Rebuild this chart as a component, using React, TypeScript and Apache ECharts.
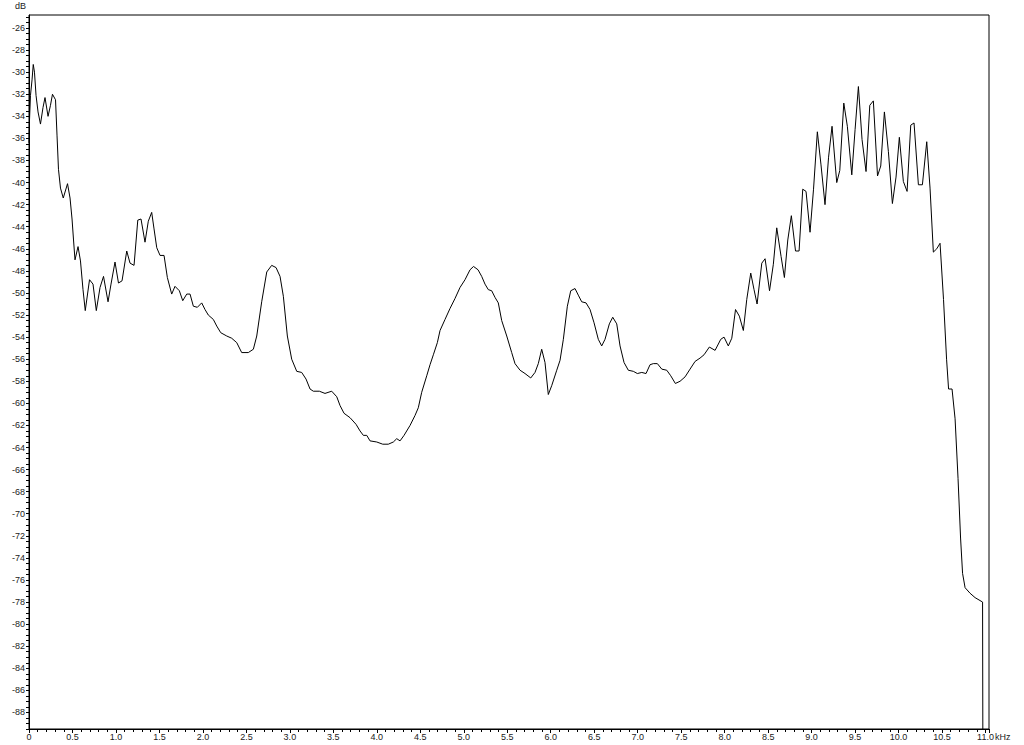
import React, { useEffect, useRef } from "react";
import * as echarts from "echarts";

// Frequency (kHz) of each spectrum sample
const freqKHz: number[] = [
  0.000, 0.006, 0.017, 0.035, 0.049, 0.063, 0.081, 0.104, 0.132, 0.161,
  0.184, 0.219, 0.247, 0.270, 0.305, 0.322, 0.339, 0.362, 0.394, 0.443,
  0.472, 0.495, 0.512, 0.529, 0.564, 0.592, 0.621, 0.647, 0.696, 0.736,
  0.774, 0.817, 0.857, 0.909, 0.943, 0.989, 1.029, 1.070, 1.124, 1.162,
  1.208, 1.251, 1.288, 1.334, 1.372, 1.411, 1.438, 1.469, 1.507, 1.553,
  1.591, 1.641, 1.679, 1.729, 1.768, 1.814, 1.852, 1.890, 1.936, 1.986,
  2.024, 2.062, 2.120, 2.159, 2.205, 2.274, 2.331, 2.389, 2.446, 2.522,
  2.580, 2.619, 2.676, 2.734, 2.791, 2.841, 2.887, 2.925, 2.971, 3.021,
  3.079, 3.136, 3.186, 3.232, 3.270, 3.339, 3.404, 3.481, 3.539, 3.577,
  3.623, 3.692, 3.761, 3.807, 3.845, 3.884, 3.922, 3.999, 4.068, 4.132,
  4.190, 4.229, 4.267, 4.313, 4.382, 4.439, 4.477, 4.516, 4.574, 4.612,
  4.650, 4.696, 4.727, 4.784, 4.842, 4.899, 4.957, 5.014, 5.072, 5.112,
  5.164, 5.206, 5.244, 5.282, 5.321, 5.359, 5.397, 5.436, 5.494, 5.551,
  5.589, 5.647, 5.704, 5.770, 5.819, 5.857, 5.896, 5.934, 5.972, 6.011,
  6.069, 6.107, 6.145, 6.191, 6.230, 6.279, 6.317, 6.356, 6.406, 6.452,
  6.498, 6.547, 6.586, 6.624, 6.674, 6.713, 6.759, 6.797, 6.843, 6.892,
  6.950, 6.996, 7.047, 7.096, 7.142, 7.180, 7.226, 7.277, 7.334, 7.380,
  7.433, 7.487, 7.545, 7.602, 7.660, 7.717, 7.763, 7.824, 7.890, 7.955,
  7.993, 8.042, 8.082, 8.125, 8.169, 8.215, 8.254, 8.300, 8.338, 8.373,
  8.427, 8.465, 8.516, 8.560, 8.599, 8.649, 8.687, 8.726, 8.767, 8.815,
  8.856, 8.898, 8.936, 8.982, 9.022, 9.066, 9.108, 9.154, 9.195, 9.235,
  9.289, 9.324, 9.370, 9.411, 9.462, 9.500, 9.538, 9.580, 9.626, 9.669,
  9.710, 9.758, 9.795, 9.837, 9.883, 9.929, 9.971, 10.009, 10.055, 10.098,
  10.140, 10.178, 10.228, 10.274, 10.324, 10.362, 10.400, 10.439, 10.477, 10.517,
  10.552, 10.575, 10.615, 10.650, 10.684, 10.713, 10.736, 10.765, 10.822, 10.880,
  10.966, 10.972,
];

// Level (dB) of each spectrum sample
const levelDb: number[] = [
  -36.4, -34.3, -32.1, -30.7, -29.3, -30.0, -32.1, -33.6, -34.7, -33.2,
  -32.3, -34.0, -33.0, -32.0, -32.5, -35.7, -38.8, -40.5, -41.4, -40.1,
  -41.4, -43.3, -45.2, -47.0, -45.8, -47.1, -49.7, -51.6, -48.8, -49.2,
  -51.6, -49.5, -48.5, -50.8, -49.2, -47.2, -49.1, -48.9, -46.2, -47.3,
  -47.5, -43.4, -43.3, -45.4, -43.5, -42.7, -44.2, -45.9, -46.6, -46.6,
  -48.6, -50.1, -49.4, -49.8, -50.7, -50.1, -50.1, -51.2, -51.3, -50.9,
  -51.5, -52.0, -52.4, -53.0, -53.6, -53.9, -54.1, -54.5, -55.4, -55.4,
  -55.1, -53.9, -50.8, -48.1, -47.5, -47.7, -48.5, -50.3, -53.9, -56.0,
  -57.1, -57.2, -57.8, -58.7, -58.9, -58.9, -59.1, -58.9, -59.4, -60.2,
  -60.9, -61.3, -61.9, -62.5, -62.9, -62.9, -63.4, -63.5, -63.7, -63.7,
  -63.5, -63.2, -63.4, -62.9, -62.0, -61.1, -60.4, -59.0, -57.5, -56.5,
  -55.6, -54.5, -53.4, -52.4, -51.4, -50.5, -49.5, -48.8, -47.9, -47.6,
  -47.9, -48.5, -49.2, -49.7, -49.8, -50.4, -50.9, -52.5, -53.9, -55.4,
  -56.4, -57.0, -57.3, -57.7, -57.2, -56.4, -55.1, -56.3, -59.2, -58.4,
  -57.0, -56.1, -54.2, -51.2, -49.8, -49.6, -50.2, -50.8, -50.9, -51.5,
  -52.7, -54.2, -54.8, -54.2, -52.8, -52.2, -52.8, -54.8, -56.3, -57.0,
  -57.1, -57.3, -57.2, -57.3, -56.5, -56.4, -56.4, -56.9, -57.0, -57.5,
  -58.2, -58.0, -57.6, -56.9, -56.2, -55.9, -55.6, -54.9, -55.2, -54.2,
  -54.0, -54.8, -54.1, -51.5, -52.1, -53.4, -50.6, -48.2, -49.7, -51.0,
  -47.3, -46.9, -49.8, -47.4, -44.1, -46.7, -48.6, -45.2, -43.0, -46.2,
  -46.2, -40.6, -40.8, -44.5, -40.6, -35.4, -38.4, -42.0, -37.7, -34.9,
  -40.0, -38.9, -32.8, -34.9, -39.3, -35.2, -31.3, -36.1, -39.0, -33.0,
  -32.6, -39.4, -38.5, -33.6, -37.2, -41.9, -39.5, -35.9, -39.9, -40.8,
  -34.8, -34.6, -40.2, -40.2, -36.3, -40.5, -46.3, -46.0, -45.5, -50.6,
  -56.0, -58.7, -58.7, -61.4, -66.8, -72.2, -75.4, -76.7, -77.2, -77.6,
  -78.0, -100.0,
];

// Axis extents, tick spacing and labelling step
const xMin = 0;
const xMax = 11.04;
const xStep = 0.5;
const yMin = -89.5;
const yMax = -24.82;
const yTickStep = 0.5;
const yLabelStep = 2;
const xUnit = "kHz";
const yUnit = "dB";

const FONT = "Liberation Sans";

export default function App() {
  const ref = useRef<HTMLDivElement>(null);

  useEffect(() => {
    if (!ref.current) return;
    const chart = echarts.init(ref.current, undefined, { renderer: "svg" });
    const data = freqKHz.map((f, i) => [f, levelDb[i]]);
    const isMult = (v: number, step: number) =>
      Math.abs(v / step - Math.round(v / step)) < 1e-6;

    chart.setOption({
      animation: false,
      backgroundColor: "#fff",
      grid: {
        left: 29,
        right: 35,
        top: 15,
        bottom: 16,
        show: true,
        borderColor: "#000",
        borderWidth: 1,
        backgroundColor: "transparent",
      },
      xAxis: {
        type: "value",
        min: xMin,
        max: xMax,
        interval: xStep,
        axisLine: { show: true, onZero: false, lineStyle: { color: "#000", width: 1 } },
        axisTick: { show: true, length: 4, lineStyle: { color: "#000" } },
        minorTick: { show: true, splitNumber: 5, length: 3, lineStyle: { color: "#000" } },
        splitLine: { show: false },
        axisLabel: {
          show: true,
          showMaxLabel: false,
          fontFamily: FONT,
          fontSize: 9,
          color: "#222",
          margin: 3,
          formatter: (v: number) =>
            isMult(v, xStep) ? (Math.abs(v) < 1e-9 ? "0" : v.toFixed(1)) : "",
        },
      },
      yAxis: {
        type: "value",
        min: yMin,
        max: yMax,
        interval: yTickStep,
        axisLine: { show: true, onZero: false, lineStyle: { color: "#000", width: 1 } },
        axisTick: { show: true, length: 3, lineStyle: { color: "#000" } },
        splitLine: { show: false },
        axisLabel: {
          show: true,
          showMaxLabel: false,
          fontFamily: FONT,
          fontSize: 9,
          color: "#222",
          margin: 4,
          formatter: (v: number) =>
            isMult(v, yLabelStep) ? String(Math.round(v)) : "",
        },
      },
      graphic: [
        {
          type: "text",
          left: 15,
          top: 1,
          style: { text: yUnit, fontFamily: FONT, fontSize: 9, fill: "#222" },
        },
        {
          type: "text",
          left: 995,
          top: 732,
          style: { text: xUnit, fontFamily: FONT, fontSize: 9, fill: "#222" },
        },
      ],
      series: [
        {
          type: "line",
          data,
          showSymbol: false,
          symbol: "none",
          clip: true,
          lineStyle: { color: "#000", width: 1 },
        },
      ],
    });

    return () => chart.dispose();
  }, []);

  return (
    <div
      ref={ref}
      style={{ position: "fixed", left: 0, top: 0, width: 1024, height: 745 }}
    />
  );
}
